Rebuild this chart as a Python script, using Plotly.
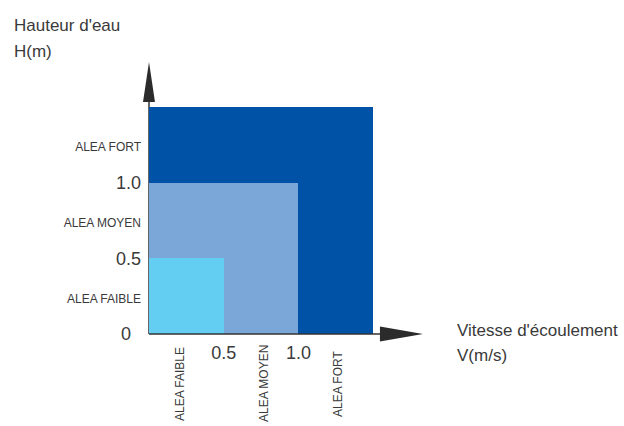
import plotly.graph_objects as go

# nested hazard zones (drawn largest first)
zones = ["ALEA FORT", "ALEA MOYEN", "ALEA FAIBLE"]
v_limits = [1.5, 1.0, 0.5]   # m/s
h_limits = [1.5, 1.0, 0.5]   # m
zone_colors = ["#0052A6", "#7AA6D8", "#64CEF2"]

num_ticks = [0, 0.5, 1.0]
num_labels = ["0", "0.5", "1.0"]
zone_ticks = [0.25, 0.75, 1.25]
zone_labels = ["ALEA FAIBLE", "ALEA MOYEN", "ALEA FORT"]

W, H = 624, 426
M = dict(l=149, r=191, t=53, b=92)
XR, YR = 1.9, 1.86
FONT = "Liberation Sans, Arial, sans-serif"
TXT = "#3a3a3a"
PW = W - M["l"] - M["r"]
PH = H - M["t"] - M["b"]


def paper_px(xpx, ypx):
    return (xpx - M["l"]) / PW, (H - M["b"] - ypx) / PH


def paper_xy(x, y):
    # data -> paper (so that decorations aren't clipped to the plot area)
    return x / XR, y / YR


fig = go.Figure()
for name, v, h, c in zip(zones, v_limits, h_limits, zone_colors):
    fig.add_trace(go.Bar(
        x=[0], y=[h], width=[v], offset=0, base=0,
        name=name, marker_color=c, marker_line_width=0,
        hovertemplate=f"{name}<extra></extra>",
    ))

small = "<span style='font-size:12px'>{}</span>"
yvals = num_ticks + zone_ticks
ytext = [("0&nbsp;&nbsp;" if t == "0" else t) for t in num_labels] + [small.format(z) for z in zone_labels]


def tri(pts):
    p = [paper_xy(*q) for q in pts]
    return "M {} {} L {} {} L {} {} Z".format(p[0][0], p[0][1], p[1][0], p[1][1], p[2][0], p[2][1])


# axis lines + arrow heads
x0, y0 = paper_xy(0, 0)
shapes = [
    dict(type="line", x0=x0, y0=y0, x1=x0, y1=paper_xy(0, 1.54)[1], xref="paper", yref="paper",
         line=dict(color="#333333", width=1.5), layer="below"),
    dict(type="line", x0=x0, y0=y0, x1=paper_xy(1.55, 0)[0], y1=y0, xref="paper", yref="paper",
         line=dict(color="#333333", width=1.5), layer="above"),
    dict(type="path", path=tri([(-0.04, 1.535), (0, 1.80), (0.04, 1.535)]), xref="paper", yref="paper",
         fillcolor="#2b2b2b", line=dict(width=0), layer="above"),
    dict(type="path", path=tri([(1.545, -0.05), (1.833, 0), (1.545, 0.05)]), xref="paper", yref="paper",
         fillcolor="#2b2b2b", line=dict(width=0), layer="above"),
]

ann = []
for txt, xl, yc in [("Hauteur d'eau", 12, 25), ("H(m)", 12, 52),
                    ("Vitesse d'écoulement", 455, 330), ("V(m/s)", 455, 355)]:
    px_, py_ = paper_px(xl, yc)
    ann.append(dict(text=txt, x=px_, y=py_, xref="paper", yref="paper",
                    xanchor="left", yanchor="middle", showarrow=False,
                    font=dict(size=17, color=TXT, family=FONT)))
for z, xc in zip(zone_labels, [180, 264, 338]):
    px_, py_ = paper_px(xc, 384)
    ann.append(dict(text=z, x=px_, y=py_, xref="paper", yref="paper",
                    textangle=-90, xanchor="center", yanchor="middle",
                    showarrow=False, font=dict(size=12, color=TXT, family=FONT)))

fig.update_layout(
    width=W, height=H, margin=M,
    barmode="overlay", bargap=0, showlegend=False,
    paper_bgcolor="white", plot_bgcolor="white",
    font=dict(family=FONT, size=18, color=TXT),
    xaxis=dict(range=[0, XR], tickvals=num_ticks[1:], ticktext=num_labels[1:],
               showgrid=False, zeroline=False, showline=False, ticks="",
               ticklabelstandoff=6, fixedrange=True),
    yaxis=dict(range=[0, YR], tickvals=yvals, ticktext=ytext,
               showgrid=False, zeroline=False, showline=False, ticks="",
               ticklabelstandoff=7, fixedrange=True),
    shapes=shapes, annotations=ann,
)

fig.write_html("out.html", config=dict(displayModeBar=False),
               post_script="document.body.style.margin='0';")
